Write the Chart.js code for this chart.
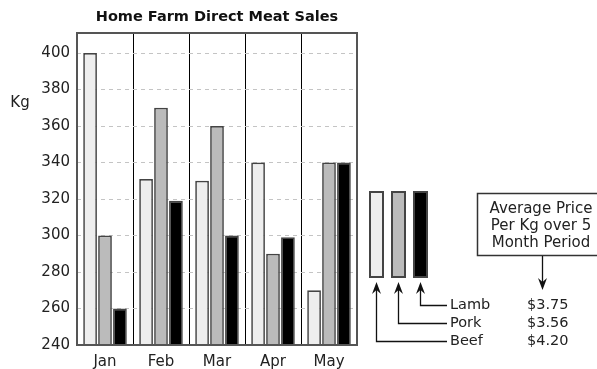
<!DOCTYPE html>
<html>
<head>
<meta charset="utf-8">
<script src="https://cdn.jsdelivr.net/npm/chart.js@4"></script>
<style>
  html, body { margin: 0; padding: 0; background: #fff; }
</style>
</head>
<body>
<canvas id="chart" width="597" height="369"></canvas>
<script>
// ============ DATA ============

const months = ['Jan', 'Feb', 'Mar', 'Apr', 'May'];
const beefKg = [400, 331, 330, 340, 270];
const porkKg = [300, 370, 360, 290, 340];
const lambKg = [260, 319, 300, 299, 340];
const meatNames = ['Beef', 'Pork', 'Lamb'];
const avgPrices = ['$4.20', '$3.56', '$3.75'];
const noteLines = ['Average Price', 'Per Kg over 5', 'Month Period'];

const FONT = '"DejaVu Sans", Verdana, sans-serif';
const fills = ['#eeeeee', '#bbbbbb', '#000000'];

// ============ DECORATIONS ============

function arrowUp(ctx, x, y) {
  ctx.beginPath();
  ctx.moveTo(x, y);
  ctx.lineTo(x - 4.5, y + 12);
  ctx.lineTo(x, y + 8);
  ctx.lineTo(x + 4.5, y + 12);
  ctx.closePath();
  ctx.fill();
}

function arrowDown(ctx, x, y) {
  ctx.beginPath();
  ctx.moveTo(x, y);
  ctx.lineTo(x - 4.5, y - 12);
  ctx.lineTo(x, y - 8);
  ctx.lineTo(x + 4.5, y - 12);
  ctx.closePath();
  ctx.fill();
}

const extras = {
  id: 'extras',
  afterDraw(chart) {
    const ctx = chart.ctx;
    const area = chart.chartArea;
    ctx.save();

    // title
    ctx.fillStyle = '#111';
    ctx.font = 'bold 14.5px ' + FONT;
    ctx.textAlign = 'center';
    ctx.textBaseline = 'middle';
    ctx.fillText('Home Farm Direct Meat Sales', (area.left + area.right) / 2, 17);

    // axis label
    ctx.font = '15px ' + FONT;
    ctx.fillStyle = '#222';
    ctx.fillText('Kg', 20, 103);

    // plot frame
    ctx.strokeStyle = '#555';
    ctx.lineWidth = 2;
    ctx.strokeRect(area.left, area.top, area.right - area.left, area.bottom - area.top);

    // legend bars with arrows
    const barX = [370, 392, 414];
    const lineY = [341, 323, 305];
    meatNames.forEach((name, i) => {
      const ds = chart.data.datasets[i];
      ctx.fillStyle = ds.backgroundColor;
      ctx.fillRect(barX[i], 192, 13, 85);
      ctx.strokeStyle = '#444';
      ctx.lineWidth = 2;
      ctx.strokeRect(barX[i], 192, 13, 85);

      const cx = barX[i] + 6.5;
      ctx.strokeStyle = '#111';
      ctx.lineWidth = 1.3;
      ctx.beginPath();
      ctx.moveTo(cx, 288);
      ctx.lineTo(cx, lineY[i] + 0.5);
      ctx.lineTo(447, lineY[i] + 0.5);
      ctx.stroke();
      ctx.fillStyle = '#111';
      arrowUp(ctx, cx, 282);

      ctx.fillStyle = '#222';
      ctx.font = '14.5px ' + FONT;
      ctx.textAlign = 'left';
      ctx.fillText(name, 450, lineY[i]);
      ctx.fillText(avgPrices[i], 527, lineY[i]);
    });

    // note box
    ctx.strokeStyle = '#333';
    ctx.lineWidth = 1.5;
    ctx.strokeRect(477.5, 193.5, 130, 62);
    ctx.fillStyle = '#222';
    ctx.textAlign = 'center';
    ctx.font = '15px ' + FONT;
    noteLines.forEach((t, i) => ctx.fillText(t, 541, 209 + i * 17));
    ctx.strokeStyle = '#111';
    ctx.lineWidth = 1.3;
    ctx.beginPath();
    ctx.moveTo(542.5, 256);
    ctx.lineTo(542.5, 284);
    ctx.stroke();
    ctx.fillStyle = '#111';
    arrowDown(ctx, 542.5, 290);

    ctx.restore();
  }
};

// ============ CHART ============

const barStyle = {
  borderColor: '#444',
  borderWidth: 1.7,
  borderSkipped: false,
  categoryPercentage: 0.8,
  barPercentage: 0.92
};

new Chart(document.getElementById('chart'), {
  type: 'bar',
  data: {
    labels: months,
    datasets: [
      { label: meatNames[0], data: beefKg, backgroundColor: fills[0], ...barStyle },
      { label: meatNames[1], data: porkKg, backgroundColor: fills[1], ...barStyle },
      { label: meatNames[2], data: lambKg, backgroundColor: fills[2], ...barStyle }
    ]
  },
  options: {
    responsive: false,
    animation: false,
    layout: { padding: { left: 0, top: 33, right: 240, bottom: 0 } },
    plugins: {
      legend: { display: false },
      title: { display: false },
      tooltip: { enabled: false }
    },
    scales: {
      x: {
        afterFit: (scale) => { scale.height = 24; },
        grid: { color: '#000', lineWidth: 1, drawTicks: false, offset: true },
        border: { display: false },
        ticks: { color: '#222', padding: 8, font: { family: FONT, size: 15 } }
      },
      y: {
        min: 240,
        max: 411,
        afterFit: (scale) => { scale.width = 77; },
        grid: { color: '#c4c4c4', lineWidth: 1, drawTicks: false },
        border: { display: false, dash: [4, 4] },
        ticks: {
          stepSize: 20,
          includeBounds: false,
          color: '#222',
          padding: 7,
          font: { family: FONT, size: 15 }
        }
      }
    }
  },
  plugins: [extras]
});
</script>
</body>
</html>
